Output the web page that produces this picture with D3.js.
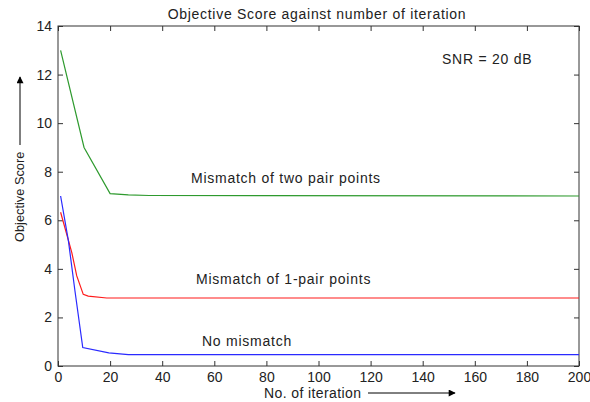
<!DOCTYPE html>
<html>
<head>
<meta charset="utf-8">
<script src="https://cdn.jsdelivr.net/npm/d3@7"></script>
<style>
  body { margin: 0; background: #fff; }
  text { font-family: "Liberation Sans", Arial, sans-serif; fill: #222; }
  .axis path, .axis line { stroke: #333; }
  .axis text { font-size: 14px; fill: #222; }
  .label { font-size: 14px; letter-spacing: 0.7px; }
</style>
</head>
<body>
<div id="dataviz"></div>
<script>
// chart data
var iterNoMismatch = [1, 4, 6.5, 9.5, 19.5, 27, 200];
var scoreNoMismatch = [7.0, 5.15, 3.1, 0.76, 0.54, 0.47, 0.47];

var iterOnePair = [1, 5.3, 7.2, 9.7, 11.6, 18.7, 200];
var scoreOnePair = [6.33, 4.67, 3.71, 2.95, 2.88, 2.8, 2.8];

var iterTwoPair = [1, 10, 20, 27, 35, 200];
var scoreTwoPair = [13.0, 9.0, 7.1, 7.05, 7.02, 7.0];

var xTicks = [0, 20, 40, 60, 80, 100, 120, 140, 160, 180, 200];
var yTicks = [0, 2, 4, 6, 8, 10, 12, 14];

var margin = { top: 26, right: 11, bottom: 36, left: 58 };
var widthFull = 590;
var heightFull = 402;
var width = widthFull - margin.left - margin.right;
var height = heightFull - margin.top - margin.bottom;

var root = d3.select("#dataviz").append("svg")
    .attr("width", widthFull)
    .attr("height", heightFull);

var svg = root.append("g")
    .attr("transform", "translate(" + margin.left + "," + margin.top + ")");

var x = d3.scaleLinear().domain([0, 200]).range([0, width]);
var y = d3.scaleLinear().domain([0, 14]).range([height, 0]);

// box
svg.append("rect")
    .attr("width", width).attr("height", height)
    .attr("fill", "none").attr("stroke", "#333");

// bottom + left axes with labels, ticks pointing inward
svg.append("g").attr("class", "axis")
    .attr("transform", "translate(0," + height + ")")
    .call(d3.axisBottom(x).tickValues(xTicks).tickSize(-5).tickPadding(6))
    .call(g => g.select(".domain").remove());

svg.append("g").attr("class", "axis")
    .call(d3.axisLeft(y).tickValues(yTicks).tickSize(-5).tickPadding(6))
    .call(g => g.select(".domain").remove());

// top + right axes, ticks only
svg.append("g").attr("class", "axis")
    .call(d3.axisTop(x).tickValues(xTicks).tickSize(-5).tickFormat(""))
    .call(g => g.select(".domain").remove());

svg.append("g").attr("class", "axis")
    .attr("transform", "translate(" + width + ",0)")
    .call(d3.axisRight(y).tickValues(yTicks).tickSize(-5).tickFormat(""))
    .call(g => g.select(".domain").remove());

function trace(xs, ys, color) {
    var line = d3.line()
        .x(d => x(d[0]))
        .y(d => y(d[1]));
    svg.append("path")
        .datum(xs.map((v, i) => [v, ys[i]]))
        .attr("fill", "none")
        .attr("stroke", color)
        .attr("stroke-width", 1.2)
        .attr("d", line);
}

trace(iterTwoPair, scoreTwoPair, "#2e9a2e");
trace(iterOnePair, scoreOnePair, "#ff1a1a");
trace(iterNoMismatch, scoreNoMismatch, "#2a2aff");

// annotations
var notes = [
    { t: "SNR = 20 dB", x: 442, y: 64 },
    { t: "Mismatch of two pair points", x: 191, y: 183 },
    { t: "Mismatch of 1-pair points", x: 196, y: 284 },
    { t: "No mismatch", x: 202, y: 346 }
];
root.selectAll("text.note").data(notes).enter().append("text")
    .attr("class", "note label")
    .attr("x", d => d.x).attr("y", d => d.y)
    .style("letter-spacing", "0.75px")
    .text(d => d.t);

// title
root.append("text")
    .attr("class", "label")
    .attr("x", 317).attr("y", 19)
    .attr("text-anchor", "middle")
    .text("Objective Score against number of iteration");

// arrow marker
root.append("defs").append("marker")
    .attr("id", "arr")
    .attr("viewBox", "0 0 10 10")
    .attr("refX", 9).attr("refY", 5)
    .attr("markerWidth", 10).attr("markerHeight", 7)
    .attr("markerUnits", "userSpaceOnUse")
    .attr("orient", "auto")
    .append("path").attr("d", "M0,0L10,5L0,10Z").attr("fill", "#000");

// x label with arrow
root.append("text")
    .attr("class", "label")
    .attr("x", 264).attr("y", 398)
    .style("letter-spacing", "0.4px")
    .text("No. of iteration");
root.append("line")
    .attr("x1", 368).attr("y1", 393).attr("x2", 455).attr("y2", 393)
    .attr("stroke", "#000").attr("marker-end", "url(#arr)");

// y label with arrow
root.append("text")
    .attr("transform", "translate(24,242) rotate(-90)")
    .style("font-size", "12.8px")
    .text("Objective Score");
root.append("line")
    .attr("x1", 20).attr("y1", 145).attr("x2", 20).attr("y2", 77)
    .attr("stroke", "#000").attr("marker-end", "url(#arr)");
</script>
</body>
</html>
